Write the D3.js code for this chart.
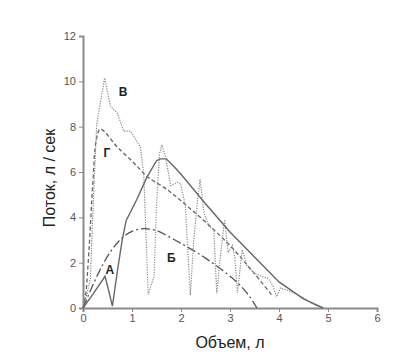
<!DOCTYPE html>
<html>
<head>
<meta charset="utf-8">
<script src="https://cdn.jsdelivr.net/npm/d3@7"></script>
<style>
  html, body { margin: 0; padding: 0; background: #fff; }
  svg { display: block; font-family: "Liberation Sans", Arial, sans-serif; }
</style>
</head>
<body>
<svg id="chart" width="411" height="363"></svg>
<script>
// flow-volume curves: [volume, flow]
const curveA = [[0,0],[0.2,0.6],[0.45,1.4],[0.52,0.8],[0.6,0.08],[0.7,1.6],[0.8,3.0],[0.88,3.85],[1.1,4.8],[1.3,5.75],[1.5,6.5],[1.58,6.58],[1.7,6.58],[1.85,6.25],[2.0,5.9],[2.5,4.6],[3.0,3.35],[3.5,2.25],[4.0,1.15],[4.5,0.4],[4.9,0]];
const curveB = [[0,0],[0.2,1.0],[0.4,1.9],[0.6,2.6],[0.8,3.1],[1.0,3.38],[1.25,3.5],[1.5,3.42],[1.75,3.15],[2.0,2.85],[2.5,2.2],[2.75,1.82],[3.0,1.4],[3.25,0.9],[3.45,0.35],[3.55,0]];
const curveV = [[0,0],[0.08,0.6],[0.15,1.3],[0.22,5.2],[0.28,8.1],[0.44,10.15],[0.56,8.9],[0.7,8.6],[0.83,7.8],[0.97,7.8],[1.1,7.35],[1.17,7.1],[1.24,5.9],[1.29,3.0],[1.33,0.6],[1.45,1.4],[1.5,4.5],[1.56,6.8],[1.61,7.2],[1.68,6.7],[1.79,5.4],[1.92,5.55],[1.99,5.5],[2.09,4.5],[2.14,2.5],[2.19,0.57],[2.26,3.0],[2.33,4.6],[2.39,5.68],[2.47,4.2],[2.57,3.6],[2.67,3.45],[2.7,2.0],[2.73,0.65],[2.8,2.2],[2.89,3.9],[2.96,2.45],[3.05,2.75],[3.1,2.2],[3.15,0.66],[3.25,2.57],[3.35,1.84],[3.49,1.55],[3.65,1.4],[3.78,1.3],[3.88,0.96],[3.95,0.5],[4.03,0.88],[4.15,0.8],[4.31,0.66],[4.5,0.45],[4.72,0.15],[4.9,0]];
const curveG = [[0,0],[0.05,0.5],[0.12,2.5],[0.2,5.5],[0.27,7.4],[0.35,7.9],[0.45,7.75],[0.7,7.1],[1.04,6.4],[1.31,5.8],[1.72,5.22],[2.13,4.49],[2.6,3.6],[3.08,2.57],[3.49,1.54],[3.86,0.55]];

const xTicks = [0, 1, 2, 3, 4, 5, 6];
const yTicks = [0, 2, 4, 6, 8, 10, 12];
const curveLabels = [
  { text: "В", x: 0.82, y: 9.35 },
  { text: "Г", x: 0.49, y: 6.66 },
  { text: "А", x: 0.55, y: 1.5 },
  { text: "Б", x: 1.8, y: 2.03 }
];

const svg = d3.select("#chart");
const margin = { top: 36, right: 34, bottom: 55, left: 83 };
const width = 411 - margin.left - margin.right;
const height = 363 - margin.top - margin.bottom;
const g = svg.append("g").attr("transform", `translate(${margin.left},${margin.top})`);

const x = d3.scaleLinear().domain([0, 6]).range([0, width]);
const y = d3.scaleLinear().domain([0, 12]).range([height, 0]);

const axisColor = "#8a8a8a";
g.append("g")
  .attr("transform", `translate(0,${height})`)
  .call(d3.axisBottom(x).tickValues(xTicks).tickFormat(d3.format("d")).tickSize(4).tickPadding(2))
  .call((axis) => axis.select(".domain").attr("stroke", axisColor).attr("stroke-width", 2))
  .call((axis) => axis.selectAll("line").attr("stroke", axisColor))
  .call((axis) => axis.selectAll("text").attr("fill", "#555").style("font-size", "11px"));

g.append("g")
  .call(d3.axisLeft(y).tickValues(yTicks).tickFormat(d3.format("d")).tickSize(4).tickPadding(3))
  .call((axis) => axis.select(".domain").attr("stroke", axisColor).attr("stroke-width", 2))
  .call((axis) => axis.selectAll("line").attr("stroke", axisColor))
  .call((axis) => axis.selectAll("text").attr("fill", "#555").style("font-size", "11px"));

const line = d3.line().x((d) => x(d[0])).y((d) => y(d[1]));

g.append("path").attr("d", d3.line().x((d) => x(d[0])).y((d) => y(d[1])).curve(d3.curveMonotoneX)(curveB)).attr("fill", "none")
  .attr("stroke", "#555").attr("stroke-width", 1.3).attr("stroke-dasharray", "9,3,2,3");
g.append("path").attr("d", d3.line().x((d) => x(d[0])).y((d) => y(d[1])).curve(d3.curveCatmullRom)(curveG)).attr("fill", "none")
  .attr("stroke", "#666").attr("stroke-width", 1.3).attr("stroke-dasharray", "4,2.5");
g.append("path").attr("d", line(curveV)).attr("fill", "none")
  .attr("stroke", "#888").attr("stroke-width", 1.2).attr("stroke-dasharray", "1.2,1.3");
g.append("path").attr("d", line(curveA)).attr("fill", "none")
  .attr("stroke", "#666").attr("stroke-width", 1.4);

g.selectAll(".curve-label")
  .data(curveLabels)
  .join("text")
  .attr("x", (d) => x(d.x))
  .attr("y", (d) => y(d.y))
  .attr("text-anchor", "middle")
  .attr("fill", "#222")
  .style("font-size", "12px")
  .style("font-weight", 700)
  .text((d) => d.text);

svg.append("text")
  .attr("x", margin.left + width / 2)
  .attr("y", 348)
  .attr("text-anchor", "middle")
  .attr("fill", "#222")
  .style("font-size", "16px")
  .text("Объем, л");

svg.append("text")
  .attr("transform", `translate(55,${margin.top + height / 2 + 6}) rotate(-90)`)
  .attr("text-anchor", "middle")
  .attr("fill", "#222")
  .style("font-size", "16px")
  .text("Поток, л / сек");
</script>
</body>
</html>
